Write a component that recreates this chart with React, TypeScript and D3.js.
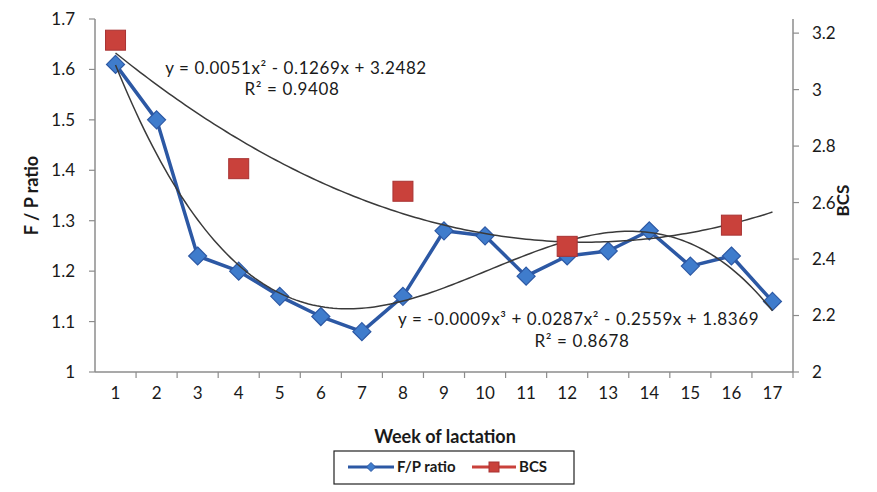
import React from "react";
import * as d3 from "d3";

const weeks = [1, 2, 3, 4, 5, 6, 7, 8, 9, 10, 11, 12, 13, 14, 15, 16, 17];
const fpRatio = [1.61, 1.5, 1.23, 1.2, 1.15, 1.11, 1.08, 1.15, 1.28, 1.27, 1.19, 1.23, 1.24, 1.28, 1.21, 1.23, 1.14];
const bcsWeeks = [1, 4, 8, 12, 16];
const bcsValues = [3.175, 2.72, 2.64, 2.445, 2.52];
const leftTicks = [1, 1.1, 1.2, 1.3, 1.4, 1.5, 1.6, 1.7];
const rightTicks = [2, 2.2, 2.4, 2.6, 2.8, 3, 3.2];
const eqBcs = "y = 0.0051x² - 0.1269x + 3.2482";
const r2Bcs = "R² = 0.9408";
const eqFp = "y = -0.0009x³ + 0.0287x² - 0.2559x + 1.8369";
const r2Fp = "R² = 0.8678";

function polyfit(xs: number[], ys: number[], deg: number): number[] {
  const n = deg + 1;
  const A: number[][] = Array.from({ length: n }, () => new Array(n + 1).fill(0));
  for (let i = 0; i < xs.length; i++) {
    for (let r = 0; r < n; r++) {
      for (let c = 0; c < n; c++) A[r][c] += Math.pow(xs[i], r + c);
      A[r][n] += ys[i] * Math.pow(xs[i], r);
    }
  }
  for (let col = 0; col < n; col++) {
    let piv = col;
    for (let r = col + 1; r < n; r++) if (Math.abs(A[r][col]) > Math.abs(A[piv][col])) piv = r;
    [A[col], A[piv]] = [A[piv], A[col]];
    for (let r = 0; r < n; r++) {
      if (r === col) continue;
      const f = A[r][col] / A[col][col];
      for (let c = col; c <= n; c++) A[r][c] -= f * A[col][c];
    }
  }
  return A.map((row, i) => row[n] / row[i]);
}
const evalPoly = (co: number[], x: number) => co.reduce((s, c, i) => s + c * Math.pow(x, i), 0);

const W = 877, H = 492;
const L = 95, R = 793, T = 19, B = 372;
const FONT = "Lato, 'Open Sans', sans-serif";

export default function App() {
  const x = d3.scaleBand<number>().domain(weeks).range([L, R]);
  const cx = (w: number) => (x(w) as number) + x.bandwidth() / 2;
  const yL = d3.scaleLinear().domain([1, 1.7]).range([B, T]);
  const yR = d3.scaleLinear().domain([2, 3.25]).range([B, T]);

  const cubic = polyfit(weeks, fpRatio, 3);
  const quad = polyfit(bcsWeeks, bcsValues, 2);
  const xsFine = d3.range(1, 17.001, 0.1);
  const xLin = d3.scaleLinear().domain([1, 17]).range([cx(1), cx(17)]);
  const trendFp = d3.line<number>().x((v) => xLin(v)).y((v) => yL(evalPoly(cubic, v)))(xsFine) as string;
  const trendBcs = d3.line<number>().x((v) => xLin(v)).y((v) => yR(evalPoly(quad, v)))(xsFine) as string;
  const fpLine = d3.line<number>().x((_, i) => cx(weeks[i])).y((v) => yL(v))(fpRatio) as string;

  const axisColor = "#8c8c8c";
  const blue = "#2c58a4";
  const blueFill = "#3f7ccc";
  const red = "#c9413b";
  const txt = "#1a1a1a";

  const diamond = (px: number, py: number, s: number) =>
    `M${px},${py - s}L${px + s},${py}L${px},${py + s}L${px - s},${py}Z`;

  return (
    <svg width={W} height={H} style={{ position: "absolute", left: 0, top: 0, background: "#fff" }} fontFamily={FONT}>
      <rect width={W} height={H} fill="#fff" />
      {/* axes */}
      <line x1={L} x2={L} y1={T} y2={B} stroke={axisColor} strokeWidth={1.5} />
      <line x1={R} x2={R} y1={T} y2={B} stroke={axisColor} strokeWidth={1.5} />
      <line x1={L} x2={R} y1={B} y2={B} stroke={axisColor} strokeWidth={1.5} />
      {leftTicks.map((t) => (
        <g key={"l" + t}>
          <line x1={L - 6} x2={L} y1={yL(t)} y2={yL(t)} stroke={axisColor} strokeWidth={1.2} />
          <text x={L - 20} y={yL(t)} dy="0.35em" textAnchor="end" fontSize={17} fill={txt}>
            {d3.format(".1f")(t).replace(/\.0$/, "")}
          </text>
        </g>
      ))}
      {rightTicks.map((t) => (
        <g key={"r" + t}>
          <line x1={R} x2={R + 6} y1={yR(t)} y2={yR(t)} stroke={axisColor} strokeWidth={1.2} />
          <text x={R + 19} y={yR(t)} dy="0.35em" textAnchor="start" fontSize={17} fill={txt}>
            {d3.format(".1f")(t).replace(/\.0$/, "")}
          </text>
        </g>
      ))}
      {weeks.map((w) => (
        <g key={"x" + w}>
          <line x1={(x(w) as number) + x.bandwidth()} x2={(x(w) as number) + x.bandwidth()} y1={B} y2={B + 6} stroke={axisColor} strokeWidth={1.2} />
          <text x={cx(w)} y={B + 27} textAnchor="middle" fontSize={17} fill={txt}>{w}</text>
        </g>
      ))}
      {/* axis titles */}
      <text transform={`translate(38,${(T + B) / 2}) rotate(-90)`} textAnchor="middle" fontSize={18} fontWeight="bold" fill={txt}>F / P ratio</text>
      <text transform={`translate(849,${(T + B) / 2 + 5}) rotate(-90)`} textAnchor="middle" fontSize={17} fontWeight="bold" fill={txt}>BCS</text>
      <text x={445} y={443} textAnchor="middle" fontSize={18} fontWeight="bold" fill={txt}>Week of lactation</text>

      {/* F/P series */}
      <path d={fpLine} fill="none" stroke={blue} strokeWidth={3.5} strokeLinejoin="round" />
      {fpRatio.map((v, i) => (
        <path key={"d" + i} d={diamond(cx(weeks[i]), yL(v), 9)} fill={blueFill} stroke={blue} strokeWidth={1.2} />
      ))}

      {/* trendlines */}
      <path d={trendFp} fill="none" stroke="#3a3a3a" strokeWidth={1.5} />
      <path d={trendBcs} fill="none" stroke="#3a3a3a" strokeWidth={1.5} />

      {/* BCS markers */}
      {bcsValues.map((v, i) => (
        <rect key={"s" + i} x={cx(bcsWeeks[i]) - 10} y={yR(v) - 10} width={20} height={20} fill={red} stroke="#a83232" strokeWidth={1} />
      ))}

      {/* equations */}
      <text x={296} y={74} textAnchor="middle" fontSize={17} letterSpacing={0.6} fill={txt}>{eqBcs}</text>
      <text x={292} y={95} textAnchor="middle" fontSize={17} letterSpacing={0.6} fill={txt}>{r2Bcs}</text>
      <text x={398} y={325} textAnchor="start" fontSize={17} letterSpacing={0.6} fill={txt}>{eqFp}</text>
      <text x={582} y={347} textAnchor="middle" fontSize={17} letterSpacing={0.6} fill={txt}>{r2Fp}</text>

      {/* legend */}
      <rect x={334} y={451} width={240} height={33} fill="#fff" stroke="#222" strokeWidth={1.2} />
      <line x1={348} x2={394} y1={467} y2={467} stroke={blue} strokeWidth={3} />
      <path d={diamond(371, 467, 4.5)} fill={blueFill} stroke={blue} strokeWidth={1} />
      <text x={397} y={467} dy="0.35em" fontSize={15} fontWeight="bold" fill={txt}>F/P ratio</text>
      <line x1={472} x2={516} y1={467} y2={467} stroke={red} strokeWidth={3} />
      <rect x={489} y={462} width={10} height={10} fill={red} stroke="#a83232" strokeWidth={1} />
      <text x={519} y={467} dy="0.35em" fontSize={15} fontWeight="bold" fill={txt}>BCS</text>
    </svg>
  );
}
